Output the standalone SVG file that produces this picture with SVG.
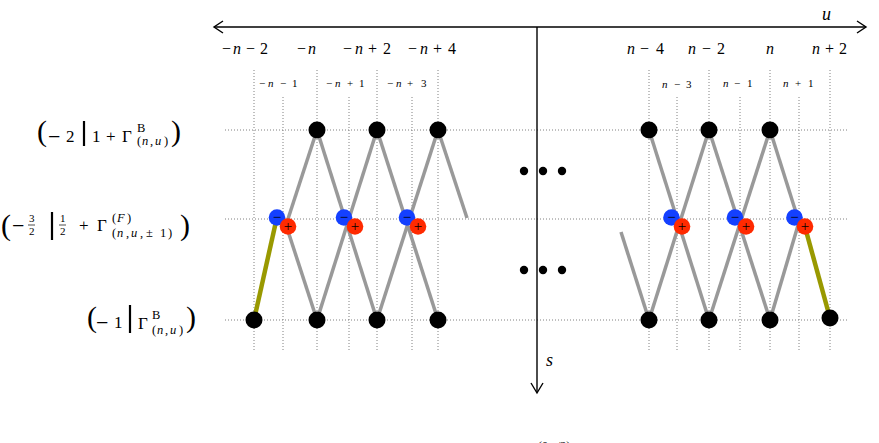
<svg xmlns="http://www.w3.org/2000/svg" width="879" height="443" viewBox="0 0 879 443">
<style>
text{font-family:"Liberation Serif","Times New Roman",serif;fill:#000}
.i{font-style:italic}
.lab{font-size:16px}
.sm{font-size:11px}
.m{font-size:17px}
.mn{font-size:22px}
.big{font-size:30px}
.sub{font-size:12.5px}
.grid{stroke:#808080;stroke-width:1;stroke-dasharray:1 2;fill:none}
.edge{stroke:#999;stroke-width:3.5;fill:none}
.olive{stroke:#999900;stroke-width:4.5;fill:none}
.axis{stroke:#000;stroke-width:1.4;fill:none}
.node{fill:#000}
.neg{fill:#1440ff}
.pos{fill:#ff2a00}
.sg{font-size:15px;text-anchor:middle}
.bar{stroke:#000;stroke-width:2.2}
.fb{stroke:#000;stroke-width:0.7}
</style>

<g id="grid">
<line class="grid" x1="225" y1="130" x2="848" y2="130"/>
<line class="grid" x1="225" y1="219" x2="848" y2="219"/>
<line class="grid" x1="225" y1="320" x2="848" y2="320"/>
<line class="grid" x1="254" y1="70" x2="254" y2="350"/>
<line class="grid" x1="317" y1="70" x2="317" y2="350"/>
<line class="grid" x1="377" y1="70" x2="377" y2="350"/>
<line class="grid" x1="438" y1="70" x2="438" y2="350"/>
<line class="grid" x1="283" y1="97" x2="283" y2="350"/>
<line class="grid" x1="349" y1="97" x2="349" y2="350"/>
<line class="grid" x1="412" y1="97" x2="412" y2="350"/>
<line class="grid" x1="649" y1="70" x2="649" y2="350"/>
<line class="grid" x1="709" y1="70" x2="709" y2="350"/>
<line class="grid" x1="770" y1="70" x2="770" y2="350"/>
<line class="grid" x1="830" y1="70" x2="830" y2="350"/>
<line class="grid" x1="677" y1="97" x2="677" y2="350"/>
<line class="grid" x1="740" y1="97" x2="740" y2="350"/>
<line class="grid" x1="799" y1="97" x2="799" y2="350"/>
</g>

<g id="axes">
<line class="axis" x1="214" y1="27" x2="866" y2="27"/>
<polyline class="axis" points="223,21 214,27 223,33"/>
<polyline class="axis" points="857,21 866,27 857,33"/>
<line class="axis" x1="537" y1="27" x2="537" y2="392"/>
<polyline class="axis" points="531,383 537,393 543,383"/>
<text class="i" x="822" y="20" font-size="18">u</text>
<text class="i" x="546" y="366" font-size="18">s</text>
</g>

<g id="top-labels" class="lab">
<text y="54"><tspan x="222">−</tspan><tspan class="i" x="233">n</tspan><tspan x="246">−</tspan><tspan x="260">2</tspan></text>
<text y="54"><tspan x="297">−</tspan><tspan class="i" x="308">n</tspan></text>
<text y="54"><tspan x="343">−</tspan><tspan class="i" x="355">n</tspan><tspan x="368">+</tspan><tspan x="383">2</tspan></text>
<text y="54"><tspan x="408">−</tspan><tspan class="i" x="420">n</tspan><tspan x="433">+</tspan><tspan x="448">4</tspan></text>
<text y="54"><tspan class="i" x="627">n</tspan><tspan x="640">−</tspan><tspan x="656">4</tspan></text>
<text y="54"><tspan class="i" x="688">n</tspan><tspan x="702">−</tspan><tspan x="717">2</tspan></text>
<text y="54" class="i" x="766">n</text>
<text y="54"><tspan class="i" x="812">n</tspan><tspan x="825">+</tspan><tspan x="839">2</tspan></text>
</g>

<g id="small-labels" class="sm">
<text y="87"><tspan x="259">−</tspan><tspan class="i" x="268">n</tspan><tspan x="280">−</tspan><tspan x="292">1</tspan></text>
<text y="87"><tspan x="326">−</tspan><tspan class="i" x="335">n</tspan><tspan x="347">+</tspan><tspan x="359">1</tspan></text>
<text y="87"><tspan x="387">−</tspan><tspan class="i" x="396">n</tspan><tspan x="407">+</tspan><tspan x="421">3</tspan></text>
<text y="88"><tspan class="i" x="662">n</tspan><tspan x="674">−</tspan><tspan x="686">3</tspan></text>
<text y="87"><tspan class="i" x="723">n</tspan><tspan x="734">−</tspan><tspan x="747">1</tspan></text>
<text y="87"><tspan class="i" x="783">n</tspan><tspan x="795">+</tspan><tspan x="808">1</tspan></text>
</g>

<g id="row-labels">
<g id="label-top">
<text class="big" x="37" y="141">(</text>
<text class="mn" x="48" y="143.5">−</text>
<text class="m" x="66" y="142">2</text>
<line class="bar" x1="84" y1="121" x2="84" y2="146"/>
<text class="m" y="142"><tspan x="92">1</tspan><tspan x="106">+</tspan><tspan x="122">Γ</tspan></text>
<text class="sub" x="137" y="132">B</text>
<text class="sub" y="145"><tspan x="137">(</tspan><tspan class="i" x="142">n</tspan><tspan x="150">,</tspan><tspan class="i" x="155">u</tspan><tspan x="164">)</tspan></text>
<text class="big" x="171" y="141">)</text>
</g>
<g id="label-mid">
<text class="big" x="1" y="235">(</text>
<text class="mn" x="12" y="232.5">−</text>
<text class="sm" x="29" y="222">3</text>
<line class="fb" x1="28" y1="225" x2="35" y2="225"/>
<text class="sm" x="29" y="235">2</text>
<line class="bar" x1="52" y1="212" x2="52" y2="240"/>
<text class="sm" x="60" y="222">1</text>
<line class="fb" x1="59" y1="225" x2="66" y2="225"/>
<text class="sm" x="60" y="235">2</text>
<text class="m" x="79" y="231">+</text>
<text class="m" x="97" y="231">Γ</text>
<text class="sub" y="222"><tspan x="112">(</tspan><tspan class="i" x="117">F</tspan><tspan x="127">)</tspan></text>
<text class="sub" y="237"><tspan x="112">(</tspan><tspan class="i" x="117">n</tspan><tspan x="126">,</tspan><tspan class="i" x="131">u</tspan><tspan x="140">,</tspan><tspan x="146">±</tspan><tspan x="160">1</tspan><tspan x="168">)</tspan></text>
<text class="big" x="180" y="235">)</text>
</g>
<g id="label-bot">
<text class="big" x="87" y="327">(</text>
<text class="mn" x="96" y="329.5">−</text>
<text class="m" x="114" y="328">1</text>
<line class="bar" x1="130" y1="305" x2="130" y2="333"/>
<text class="m" x="138" y="329">Γ</text>
<text class="sub" x="152" y="319">B</text>
<text class="sub" y="334"><tspan x="152">(</tspan><tspan class="i" x="157">n</tspan><tspan x="165">,</tspan><tspan class="i" x="170">u</tspan><tspan x="179">)</tspan></text>
<text class="big" x="186" y="327">)</text>
</g>
</g>

<g id="connectors">
<line class="edge" x1="317" y1="130" x2="286" y2="225"/>
<line class="edge" x1="286" y1="225" x2="317" y2="320"/>
<line class="edge" x1="317" y1="130" x2="377" y2="320"/>
<line class="edge" x1="377" y1="130" x2="317" y2="320"/>
<line class="edge" x1="377" y1="130" x2="438" y2="320"/>
<line class="edge" x1="438" y1="130" x2="377" y2="320"/>
<line class="edge" x1="438" y1="130" x2="467" y2="218"/>
<line class="olive" x1="254" y1="320" x2="277" y2="217"/>
<line class="edge" x1="621" y1="232" x2="649" y2="320"/>
<line class="edge" x1="649" y1="130" x2="709" y2="320"/>
<line class="edge" x1="709" y1="130" x2="649" y2="320"/>
<line class="edge" x1="709" y1="130" x2="770" y2="320"/>
<line class="edge" x1="770" y1="130" x2="709" y2="320"/>
<line class="edge" x1="770" y1="130" x2="799" y2="222"/>
<line class="edge" x1="770" y1="320" x2="799" y2="222"/>
<line class="olive" x1="805" y1="227" x2="830" y2="318"/>
</g>

<g id="nodes-top">
<circle id="t1" class="node" cx="317" cy="130" r="8.5"/>
<circle id="t2" class="node" cx="377" cy="130" r="8.5"/>
<circle id="t3" class="node" cx="438" cy="130" r="8.5"/>
<circle id="t4" class="node" cx="649" cy="130" r="8.5"/>
<circle id="t5" class="node" cx="709" cy="130" r="8.5"/>
<circle id="t6" class="node" cx="770" cy="130" r="8.5"/>
</g>
<g id="nodes-bottom">
<circle id="b1" class="node" cx="254" cy="320" r="8.5"/>
<circle id="b2" class="node" cx="317" cy="320" r="8.5"/>
<circle id="b3" class="node" cx="377" cy="320" r="8.5"/>
<circle id="b4" class="node" cx="438" cy="320" r="8.5"/>
<circle id="b5" class="node" cx="649" cy="320" r="8.5"/>
<circle id="b6" class="node" cx="709" cy="320" r="8.5"/>
<circle id="b7" class="node" cx="770" cy="320" r="8.5"/>
<circle id="b8" class="node" cx="830" cy="318" r="8.5"/>
</g>

<g id="pairs">
<g id="p1"><circle class="neg" cx="277" cy="217.5" r="8.3"/><circle class="pos" cx="288" cy="226.5" r="8.3"/><text class="sg" x="277" y="221.5">−</text><text class="sg" x="288" y="231">+</text></g>
<g id="p2"><circle class="neg" cx="344" cy="217.5" r="8.3"/><circle class="pos" cx="355" cy="226.5" r="8.3"/><text class="sg" x="344" y="221.5">−</text><text class="sg" x="355" y="231">+</text></g>
<g id="p3"><circle class="neg" cx="407" cy="217.5" r="8.3"/><circle class="pos" cx="418" cy="226.5" r="8.3"/><text class="sg" x="407" y="221.5">−</text><text class="sg" x="418" y="231">+</text></g>
<g id="p4"><circle class="neg" cx="671.5" cy="217.5" r="8.3"/><circle class="pos" cx="682" cy="226.5" r="8.3"/><text class="sg" x="671.5" y="221.5">−</text><text class="sg" x="682" y="231">+</text></g>
<g id="p5"><circle class="neg" cx="735" cy="217.5" r="8.3"/><circle class="pos" cx="746" cy="226.5" r="8.3"/><text class="sg" x="735" y="221.5">−</text><text class="sg" x="746" y="231">+</text></g>
<g id="p6"><circle class="neg" cx="794.5" cy="217.5" r="8.3"/><circle class="pos" cx="805" cy="226.5" r="8.3"/><text class="sg" x="794.5" y="221.5">−</text><text class="sg" x="805" y="231">+</text></g>
</g>

<g id="ellipsis">
<circle cx="524" cy="171" r="4.2"/><circle cx="543" cy="171" r="4.2"/><circle cx="562" cy="171" r="4.2"/>
<circle cx="524" cy="270" r="4.2"/><circle cx="543" cy="270" r="4.2"/><circle cx="562" cy="270" r="4.2"/>
</g>

<text x="538" y="450" font-size="12">(0,<tspan class="i">π</tspan>/2)</text>
</svg>
